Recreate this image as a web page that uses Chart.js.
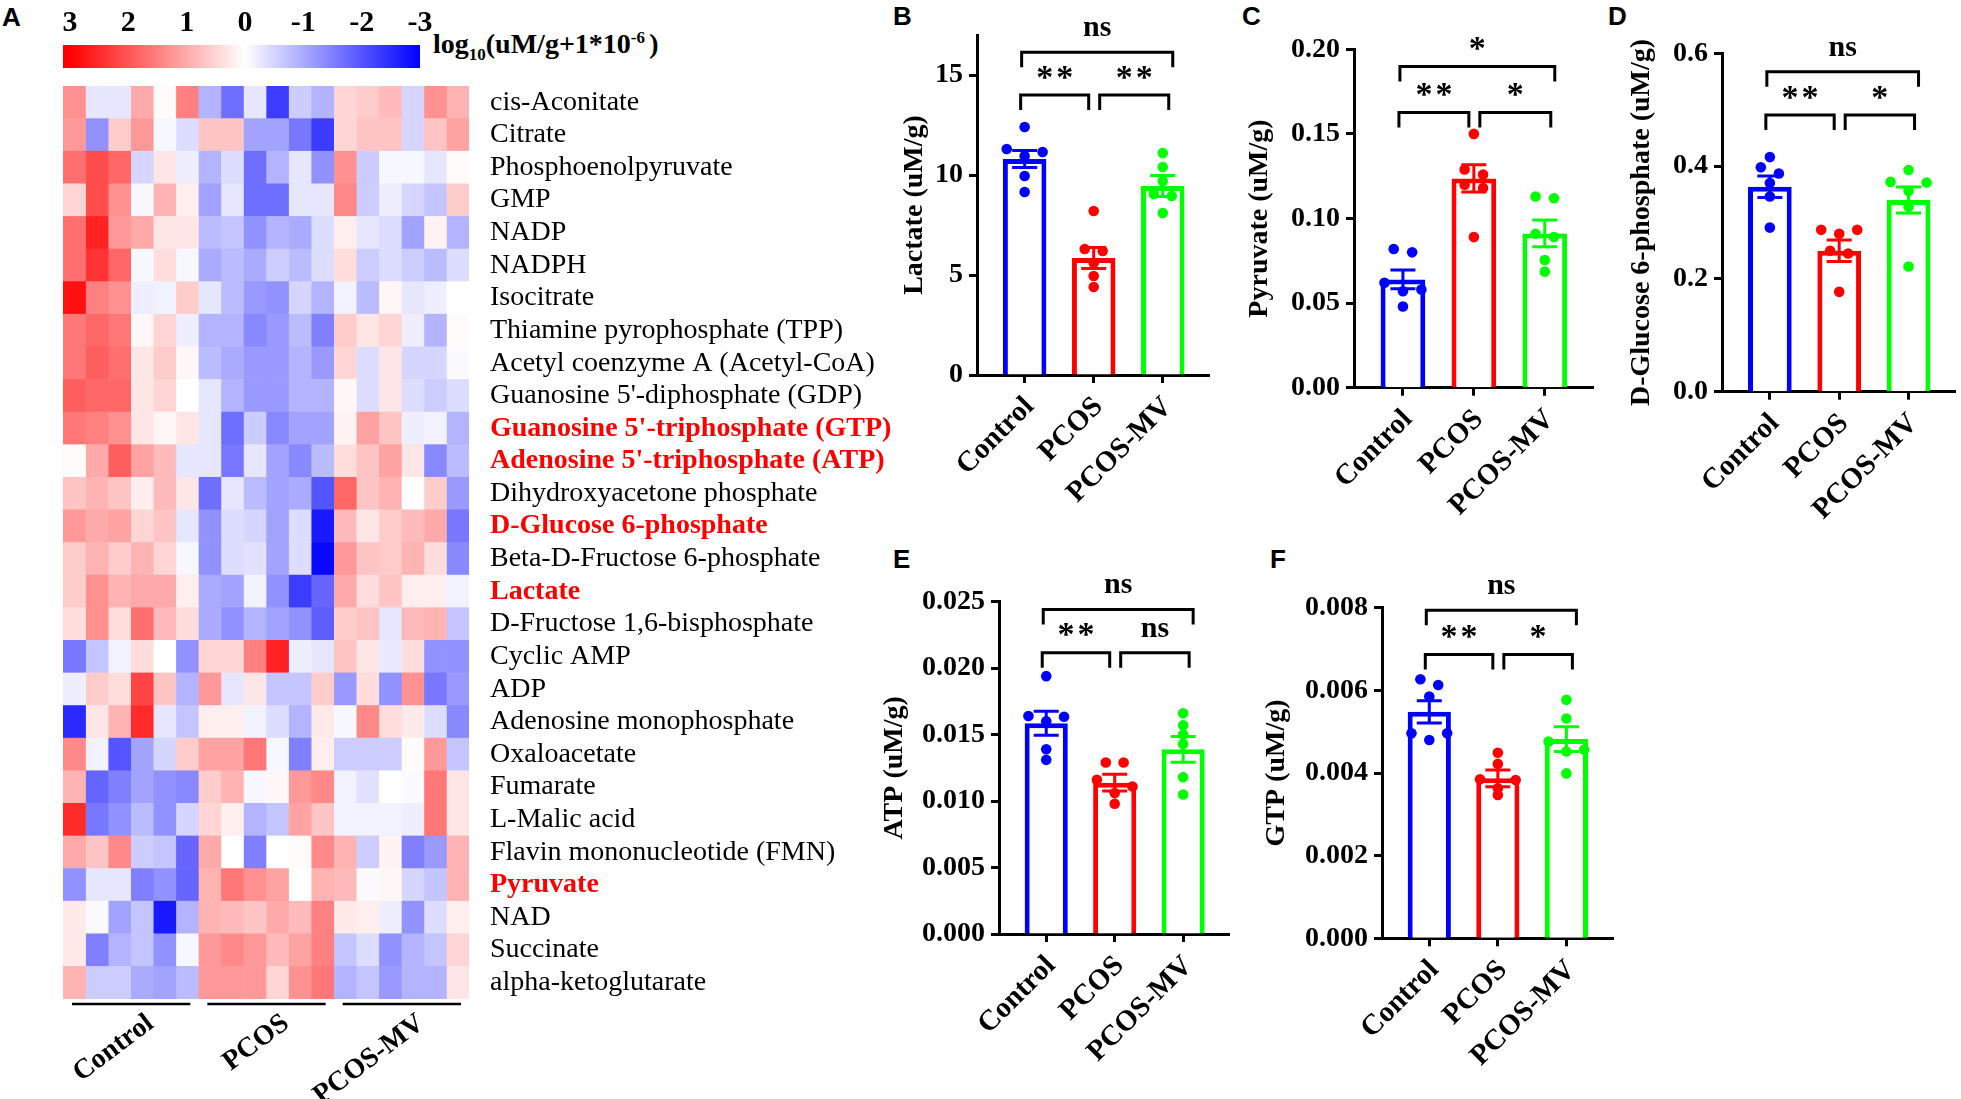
<!DOCTYPE html>
<html>
<head>
<meta charset="utf-8">
<script src="https://cdn.jsdelivr.net/npm/chart.js@4.4.1/dist/chart.umd.min.js"></script>
<style>
  html, body { margin: 0; padding: 0; background: #fff; width: 1961px; height: 1099px; overflow: hidden; }
  canvas { position: absolute; }
  .letter { position: absolute; font: bold 26px "Liberation Sans", Arial, sans-serif; line-height: 1; }
  #cbtitle { position: absolute; left: 433px; top: 30px; font: bold 28px "Liberation Serif", serif; line-height: 1; white-space: nowrap; }
  #cbtitle sub, #cbtitle sup { font-size: 17px; line-height: 0; }
</style>
</head>
<body>
<div class="letter" style="left:2px;top:4px">A</div>
<div class="letter" style="left:893px;top:3px">B</div>
<div class="letter" style="left:1242px;top:3px">C</div>
<div class="letter" style="left:1608px;top:3px">D</div>
<div class="letter" style="left:893px;top:546px">E</div>
<div class="letter" style="left:1270px;top:546px">F</div>
<div id="cbtitle">log<sub>10</sub>(uM/g+1*10<sup>-6 </sup>)</div>

<canvas id="heat"></canvas>
<canvas id="cbar"></canvas>
<canvas id="lactate"></canvas>
<canvas id="pyruvate"></canvas>
<canvas id="g6p"></canvas>
<canvas id="atp"></canvas>
<canvas id="gtp"></canvas>

<script>
// ---- data ----
var groups = ['Control', 'PCOS', 'PCOS-MV'];

var metabolites = [
  'cis-Aconitate', 'Citrate', 'Phosphoenolpyruvate', 'GMP', 'NADP', 'NADPH', 'Isocitrate',
  'Thiamine pyrophosphate (TPP)', 'Acetyl coenzyme A (Acetyl-CoA)', "Guanosine 5'-diphosphate (GDP)",
  "Guanosine 5'-triphosphate (GTP)", "Adenosine 5'-triphosphate (ATP)", 'Dihydroxyacetone phosphate',
  'D-Glucose 6-phosphate', 'Beta-D-Fructose 6-phosphate', 'Lactate', 'D-Fructose 1,6-bisphosphate',
  'Cyclic AMP', 'ADP', 'Adenosine monophosphate', 'Oxaloacetate', 'Fumarate', 'L-Malic acid',
  'Flavin mononucleotide (FMN)', 'Pyruvate', 'NAD', 'Succinate', 'alpha-ketoglutarate'
];
var highlighted = ["Guanosine 5'-triphosphate (GTP)", "Adenosine 5'-triphosphate (ATP)",
  'D-Glucose 6-phosphate', 'Lactate', 'Pyruvate'];

// log10 scaled, 6 samples per group (Control | PCOS | PCOS-MV)
var heatValues = [
  [1.3,-0.3,-0.3,1.0,0.05,1.5,   -0.9,-1.7,-0.3,-2.3,-0.6,-0.9,   0.5,0.6,0.8,-0.5,1.3,0.9],
  [1.2,-1.3,0.6,1.2,-0.1,-0.4,   0.7,0.7,-1.1,-1.1,-1.6,-2.3,     0.5,0.7,0.7,-0.5,0.7,1.1],
  [1.7,2.1,1.8,-0.5,0.3,-0.2,    -0.9,-0.4,-1.7,-0.9,-0.3,-1.3,   1.3,-0.6,-0.1,-0.1,-0.3,0.05],
  [0.5,2.1,1.3,-0.1,0.9,0.2,     -1.1,-0.3,-1.7,-1.7,-0.3,-0.3,   1.4,-0.6,-0.2,-0.5,-0.7,0.6],
  [1.7,2.6,1.2,1.0,0.3,0.3,      -0.8,-0.7,-1.3,-0.9,-1.0,-0.4,   0.2,-0.3,-0.4,-1.1,0.15,-0.9],
  [1.7,2.4,1.8,-0.1,0.4,-0.1,    -1.0,-0.8,-1.0,-0.6,-0.8,-0.4,   0.4,-0.6,-0.4,-0.6,-0.8,-0.4],
  [2.8,1.5,1.3,-0.2,-0.15,0.6,   -0.3,-0.8,-1.2,-1.3,-0.5,-0.9,   -0.15,-0.8,0.1,-0.3,-0.2,0.0],
  [1.6,1.8,1.6,0.1,0.5,-0.2,     -0.9,-0.9,-1.4,-1.2,-0.8,-1.5,   0.6,0.3,0.5,-0.2,-0.9,0.05],
  [1.6,1.9,1.7,0.3,0.6,0.1,      -0.8,-1.0,-1.2,-1.2,-0.9,-1.2,   0.5,-0.4,0.3,-0.5,-0.5,-0.05],
  [1.9,1.8,1.8,0.3,0.5,0.0,      -0.3,-0.9,-1.2,-1.2,-0.9,-0.9,   0.1,-0.4,0.3,-0.4,-0.6,-0.4],
  [1.6,1.5,1.3,0.3,0.1,0.3,      -0.3,-1.7,-0.6,-1.4,-1.1,-1.1,   0.15,1.1,0.7,-0.2,-0.15,-0.9],
  [0.05,1.0,1.9,1.1,0.8,-0.3,    -0.3,-1.6,-0.3,-1.1,-1.4,-0.8,   0.4,0.7,1.1,0.3,-1.4,-0.8],
  [0.7,0.9,0.7,0.2,0.8,0.3,      -1.7,-0.3,-0.8,-1.1,-1.0,-2.0,   1.8,0.7,0.9,0.0,0.6,-1.2],
  [1.2,1.0,1.1,0.5,0.7,-0.3,     -1.3,-0.4,-0.5,-1.1,-0.4,-2.7,   0.8,0.3,0.6,0.8,1.0,-1.6],
  [0.6,0.9,0.6,0.9,0.5,-0.1,     -1.3,-0.4,-0.35,-1.1,-0.4,-2.9,  1.2,0.7,0.6,0.9,0.4,-1.4],
  [0.6,1.3,0.9,1.0,1.0,0.2,      -1.0,-1.1,-0.15,-1.3,-2.3,-1.8,  1.0,0.4,0.7,0.2,0.2,-0.15],
  [0.4,1.3,0.4,1.7,0.8,0.4,      -1.0,-1.3,-0.9,-1.1,-1.3,-1.9,   0.6,0.7,-0.3,0.8,0.9,-0.7],
  [-1.6,-0.7,-0.15,0.4,0.0,-1.3, 0.5,0.5,1.5,2.6,-0.2,-0.3,       0.7,0.3,-0.25,0.4,-1.3,-1.3],
  [-0.2,0.6,0.4,2.2,0.7,-0.9,    1.2,-0.3,0.3,-0.7,-0.7,0.6,      -1.2,0.4,-1.3,1.3,-1.6,-1.2],
  [-2.5,0.3,0.9,2.5,-0.3,-0.7,   0.2,0.2,-0.15,-0.4,-0.9,0.25,    -0.1,1.4,0.4,0.25,-0.4,-1.4],
  [1.4,-0.15,-2.0,-1.1,-0.5,0.6, 1.1,1.1,1.6,-0.1,-1.5,0.2,       -0.6,-0.6,-0.6,0.05,1.2,-0.7],
  [0.9,-1.8,-1.5,-1.1,-1.3,-1.4, 0.6,0.9,-0.1,0.1,1.2,1.4,        -0.15,-0.35,0.0,-0.05,1.6,0.3],
  [2.5,-1.6,-1.3,-0.8,-1.3,-0.5, 0.5,0.2,-0.9,-0.7,1.1,0.7,       -0.15,-0.15,-0.15,-0.2,1.6,0.3],
  [1.0,0.7,1.4,-0.6,-0.7,-1.8,   1.0,0.0,-1.5,0.0,0.05,1.4,       0.9,-0.6,0.15,-1.5,-1.2,0.9],
  [-1.3,-0.3,-0.3,-1.5,-1.3,-1.8, 0.9,1.6,1.3,1.1,0.0,0.9,        0.8,-0.05,0.1,-0.5,-0.7,0.9],
  [0.25,-0.05,-1.1,-0.7,-2.7,-0.9, 0.9,0.8,0.7,1.0,0.8,1.5,       0.25,0.2,-0.2,-1.3,-0.4,0.2],
  [0.25,-1.5,-0.9,-0.7,-1.3,-0.1, 1.2,1.4,1.2,0.8,1.1,1.5,        -0.7,-0.4,-1.3,-0.9,-0.7,0.5],
  [0.9,-0.6,-0.6,-1.0,-1.1,-0.8, 1.2,1.2,1.2,0.5,1.3,1.6,         -0.9,-0.7,-1.2,-0.9,-0.9,0.3]
];
var colorbarTicks = [3, 2, 1, 0, -1, -2, -3];

var lactateMean = [10.8, 5.85, 9.45];
var lactateSem = [0.42, 0.52, 0.53];
var lactateDots = [[12.4, 11.3, 11.15, 10.95, 9.95, 9.15], [8.2, 6.3, 6.2, 5.6, 4.95, 4.4], [11.1, 10.4, 9.7, 9.05, 8.95, 8.1]];
var lactateSig = ['**', '**', 'ns'];

var pyruvateMean = [0.064, 0.1237, 0.0912];
var pyruvateSem = [0.0055, 0.0081, 0.0079];
var pyruvateDots = [[0.082, 0.080, 0.062, 0.058, 0.057, 0.048], [0.150, 0.129, 0.126, 0.120, 0.118, 0.089], [0.113, 0.112, 0.091, 0.089, 0.0755, 0.0686]];
var pyruvateSig = ['**', '*', '*'];

var g6pMean = [0.3635, 0.250, 0.340];
var g6pSem = [0.019, 0.019, 0.023];
var g6pDots = [[0.416, 0.398, 0.387, 0.37, 0.346, 0.291], [0.287, 0.287, 0.280, 0.25, 0.245, 0.177], [0.393, 0.372, 0.371, 0.356, 0.328, 0.222]];
var g6pSig = ['**', '*', 'ns'];

var atpMean = [0.01585, 0.01138, 0.01389];
var atpSem = [0.0009, 0.00063, 0.00096];
var atpDots = [[0.0194, 0.0164, 0.01635, 0.016, 0.0139, 0.0131], [0.0129, 0.0129, 0.0116, 0.0111, 0.0106, 0.0098], [0.0166, 0.0157, 0.0150, 0.0143, 0.0118, 0.0105]];
var atpSig = ['**', 'ns', 'ns'];

var gtpMean = [0.00548, 0.00387, 0.00482];
var gtpSem = [0.00027, 0.0002, 0.0003];
var gtpDots = [[0.00627, 0.00613, 0.00585, 0.00496, 0.00496, 0.0048], [0.00449, 0.00422, 0.00385, 0.00383, 0.00363, 0.00347], [0.00577, 0.00532, 0.00476, 0.00456, 0.00452, 0.00399]];
var gtpSig = ['**', '*', 'ns'];

// ---- setup ----
var SERIF = '"Liberation Serif", "Times New Roman", serif';
var groupColors = ['#0000ff', '#ff0000', '#00ff00'];
Chart.defaults.font.family = SERIF;
Chart.defaults.color = '#000';
Chart.defaults.animation = false;
Chart.defaults.plugins.legend.display = false;
Chart.defaults.plugins.tooltip.enabled = false;

function heatColor(v) {
  var t = Math.min(Math.abs(v) / 3, 1);
  var c = Math.round(255 * (1 - t));
  return v >= 0 ? 'rgb(255,' + c + ',' + c + ')' : 'rgb(' + c + ',' + c + ',255)';
}

function place(id, left, top, width, height) {
  var cv = document.getElementById(id);
  cv.width = width;
  cv.height = height;
  cv.style.left = left + 'px';
  cv.style.top = top + 'px';
  return cv;
}

// fixed axis size, and no extra label padding pushed onto the chart area
function fixSize(prop, size) {
  return function (s) {
    s[prop] = size;
    s.paddingLeft = s.paddingRight = s.paddingTop = s.paddingBottom = 0;
  };
}

// ---- heatmap ----
var perGroup = heatValues[0].length / groups.length;
var heatSets = [];
for (var j = 0; j < heatValues[0].length; j++) {
  (function (col) {
    heatSets.push({
      data: metabolites.map(function (m) { return { x: [col, col + 1], y: m }; }),
      backgroundColor: function (ctx) { return heatColor(heatValues[ctx.dataIndex][col]); },
      borderWidth: 0
    });
  })(j);
}

var groupLines = {
  id: 'groupLines',
  afterDraw: function (chart) {
    var ctx = chart.ctx, x = chart.scales.x, yb = chart.chartArea.bottom + 5;
    ctx.save();
    ctx.strokeStyle = '#000';
    ctx.lineWidth = 2.5;
    groups.forEach(function (g, i) {
      ctx.beginPath();
      ctx.moveTo(x.getPixelForValue(i * perGroup) + 9, yb);
      ctx.lineTo(x.getPixelForValue((i + 1) * perGroup) - 8, yb);
      ctx.stroke();
    });
    ctx.restore();
  }
};

place('heat', 0, 46, 900, 1053);
new Chart('heat', {
  type: 'bar',
  data: { labels: metabolites, datasets: heatSets },
  options: {
    indexAxis: 'y',
    responsive: false,
    layout: { padding: { left: 63, top: 40, right: 0, bottom: 0 } },
    datasets: { bar: { grouped: false, barPercentage: 1, categoryPercentage: 1 } },
    scales: {
      x: {
        type: 'linear', min: 0, max: heatValues[0].length, offset: false,
        grid: { display: false, drawTicks: false }, border: { display: false },
        afterBuildTicks: function (s) { s.ticks = groups.map(function (g, i) { return { value: (i + 0.5) * perGroup }; }); },
        ticks: {
          callback: function (v, i) { return groups[i]; },
          autoSkip: false, minRotation: 37, maxRotation: 37, labelOffset: 20, padding: 8,
          font: { size: 28, weight: 'bold' }
        },
        afterFit: fixSize('height', 100)
      },
      y: {
        position: 'right',
        grid: { display: false, drawTicks: false }, border: { display: false },
        ticks: {
          autoSkip: false, padding: 21,
          font: function (ctx) { return { size: 28, weight: highlighted.indexOf(metabolites[ctx.index]) >= 0 ? 'bold' : 'normal' }; },
          color: function (ctx) { return highlighted.indexOf(metabolites[ctx.index]) >= 0 ? '#ff0000' : '#000'; }
        },
        afterFit: fixSize('width', 431)
      }
    }
  },
  plugins: [groupLines]
});

// ---- colour bar ----
place('cbar', 0, 0, 440, 75);
new Chart('cbar', {
  type: 'bar',
  data: {
    labels: ['scale'],
    datasets: [{
      data: [[colorbarTicks[colorbarTicks.length - 1], 3.12]],
      backgroundColor: function (ctx) {
        var chart = ctx.chart, x = chart.scales.x;
        if (!x || !chart.chartArea) return '#fff';
        var g = chart.ctx.createLinearGradient(x.getPixelForValue(3), 0, x.getPixelForValue(-3), 0);
        g.addColorStop(0, heatColor(3));
        g.addColorStop(0.5, heatColor(0));
        g.addColorStop(1, heatColor(-3));
        return g;
      },
      borderWidth: 0, barPercentage: 1, categoryPercentage: 1
    }]
  },
  options: {
    indexAxis: 'y',
    responsive: false,
    layout: { padding: { left: 63, right: 20, top: 0, bottom: 7 } },
    scales: {
      x: {
        type: 'linear', position: 'top', min: -3, max: 3.12, reverse: true, offset: false,
        grid: { display: false, drawTicks: false }, border: { display: false },
        afterBuildTicks: function (s) { s.ticks = colorbarTicks.map(function (v) { return { value: v }; }); },
        ticks: { callback: function (v) { return String(v); }, font: { size: 30, weight: 'bold' }, padding: 4, autoSkip: false, maxRotation: 0 },
        afterFit: fixSize('height', 45)
      },
      y: { display: false }
    }
  }
});

// ---- bar panels ----
function jitter(vals, thr, step) {
  var order = vals.map(function (v, i) { return i; }).sort(function (a, b) { return vals[b] - vals[a]; });
  var off = vals.map(function () { return 0; });
  var patterns = { 1: [0], 2: [-0.5, 0.5], 3: [-1, 1, 0] };
  var cl = [];
  function flush() {
    patterns[cl.length].forEach(function (p, k) { off[cl[k]] = p * step; });
    cl = [];
  }
  order.forEach(function (i) {
    if (cl.length && (vals[cl[cl.length - 1]] - vals[i] >= thr || cl.length === 3)) flush();
    cl.push(i);
  });
  if (cl.length) flush();
  return off;
}

var marks = {
  id: 'marks',
  afterDatasetDraw: function (chart, args, opts) {
    if (args.index !== 0) return;
    var ctx = chart.ctx, x = chart.scales.x, y = chart.scales.y;
    ctx.save();
    ctx.lineWidth = 3;
    chart.data.datasets[0].data.forEach(function (d, i) {
      var cx = x.getPixelForValue(d.x), hi = y.getPixelForValue(d.y + opts.sems[i]), lo = y.getPixelForValue(d.y - opts.sems[i]);
      ctx.strokeStyle = groupColors[i];
      ctx.beginPath();
      ctx.moveTo(cx, lo); ctx.lineTo(cx, hi);
      ctx.moveTo(cx - 12.5, hi); ctx.lineTo(cx + 12.5, hi);
      ctx.moveTo(cx - 12.5, lo); ctx.lineTo(cx + 12.5, lo);
      ctx.stroke();
    });
    ctx.restore();
  },
  afterDraw: function (chart, args, opts) {
    var ctx = chart.ctx, x = chart.scales.x, y = chart.scales.y;
    var pairs = [[0, 1, -4, -5, opts.levels[0], opts.sig[0]], [1, 2, 6, 6, opts.levels[0], opts.sig[1]], [0, 2, -3, 10, opts.levels[1], opts.sig[2]]];
    ctx.save();
    ctx.strokeStyle = '#000';
    ctx.fillStyle = '#000';
    ctx.lineWidth = 3;
    pairs.forEach(function (p) {
      var xa = x.getPixelForValue(p[0]) + p[2], xb = x.getPixelForValue(p[1]) + p[3], yl = y.getPixelForValue(p[4]);
      ctx.beginPath();
      ctx.moveTo(xa, yl + 15); ctx.lineTo(xa, yl); ctx.lineTo(xb, yl); ctx.lineTo(xb, yl + 15);
      ctx.stroke();
      var txt = p[5], star = txt.charAt(0) === '*';
      ctx.font = 'bold ' + (star ? 34 : 30) + 'px ' + SERIF;
      ctx.textAlign = 'left';
      ctx.textBaseline = 'alphabetic';
      var m = ctx.measureText(star ? '*' : txt);
      var gap = star ? 3 : 0;
      var w = star ? txt.length * m.width + (txt.length - 1) * gap : m.width;
      var base = yl - 23 + (m.actualBoundingBoxAscent - m.actualBoundingBoxDescent) / 2;
      var sx = (xa + xb) / 2 - w / 2;
      if (star) {
        for (var k = 0; k < txt.length; k++) ctx.fillText('*', sx + k * (m.width + gap), base);
      } else {
        ctx.fillText(txt, sx, base);
      }
    });
    ctx.restore();
  }
};

function barPanel(id, p) {
  var box = p.box, area = p.area;
  place(id, box.left, box.top, box.width, box.height);
  var padLeft = p.titleX - box.left - 16.8;
  var dots = [];
  p.dots.forEach(function (vals, g) {
    var off = jitter(vals, p.max * 0.027, 0.26);
    vals.forEach(function (v, k) { dots.push({ x: g + off[k], y: v, g: g }); });
  });
  var axisGrid = { drawOnChartArea: false, offset: false, tickLength: 8, tickWidth: 3, tickColor: '#000' };
  var axisBorder = { color: '#000', width: 3 };
  new Chart(id, {
    type: 'bar',
    data: {
      datasets: [
        {
          type: 'bar', order: 2,
          data: p.means.map(function (m, i) { return { x: i, y: m }; }),
          backgroundColor: '#fff', borderColor: groupColors, borderWidth: 5,
          barPercentage: 0.63, categoryPercentage: 1
        },
        {
          type: 'scatter', order: 1, data: dots,
          pointBackgroundColor: dots.map(function (d) { return groupColors[d.g]; }),
          pointBorderWidth: 0, pointRadius: 5.3
        }
      ]
    },
    options: {
      responsive: false,
      layout: { padding: { left: padLeft, top: area.T - box.top, right: box.left + box.width - area.R, bottom: 0 } },
      scales: {
        x: {
          type: 'linear', min: -0.69, max: 2.68, offset: false,
          grid: axisGrid, border: axisBorder,
          afterBuildTicks: function (s) { s.ticks = groups.map(function (g, i) { return { value: i }; }); },
          ticks: {
            callback: function (v, i) { return groups[i]; },
            autoSkip: false, minRotation: 45, maxRotation: 45, padding: 7, labelOffset: 5,
            font: { size: 29, weight: 'bold' }
          },
          afterFit: fixSize('height', box.top + box.height - area.B)
        },
        y: {
          min: 0, max: p.max,
          grid: axisGrid, border: axisBorder,
          afterBuildTicks: function (s) {
            s.ticks = s.ticks.filter(function (t) { return Math.abs(t.value / p.step - Math.round(t.value / p.step)) < 1e-6; });
          },
          ticks: {
            stepSize: p.step, padding: 6,
            callback: function (v) { return v.toFixed(p.dec); },
            font: { size: 28, weight: 'bold' }
          },
          title: { display: true, text: p.title, font: { size: 28, weight: 'bold' }, padding: 0 },
          afterFit: fixSize('width', area.L - box.left - padLeft)
        }
      },
      plugins: { marks: { sems: p.sems, sig: p.sig, levels: p.levels } }
    },
    plugins: [marks]
  });
}

barPanel('lactate', {
  means: lactateMean, sems: lactateSem, dots: lactateDots, sig: lactateSig,
  max: 17, step: 5, dec: 0, title: 'Lactate (uM/g)', levels: [14, 16.14],
  box: { left: 880, top: 0, width: 335, height: 520 }, area: { L: 977, T: 35, R: 1210, B: 375 }, titleX: 915
});
barPanel('pyruvate', {
  means: pyruvateMean, sems: pyruvateSem, dots: pyruvateDots, sig: pyruvateSig,
  max: 0.2, step: 0.05, dec: 2, title: 'Pyruvate (uM/g)', levels: [0.1626, 0.1898],
  box: { left: 1210, top: 0, width: 390, height: 520 }, area: { L: 1354, T: 49.3, R: 1593, B: 387.7 }, titleX: 1260
});
barPanel('g6p', {
  means: g6pMean, sems: g6pSem, dots: g6pDots, sig: g6pSig,
  max: 0.6, step: 0.2, dec: 1, title: 'D-Glucose 6-phosphate (uM/g)', levels: [0.4906, 0.5675],
  box: { left: 1600, top: 0, width: 361, height: 520 }, area: { L: 1722, T: 53.3, R: 1958, B: 391.7 }, titleX: 1642
});
barPanel('atp', {
  means: atpMean, sems: atpSem, dots: atpDots, sig: atpSig,
  max: 0.025, step: 0.005, dec: 3, title: 'ATP (uM/g)', levels: [0.02116, 0.02442],
  box: { left: 875, top: 560, width: 360, height: 539 }, area: { L: 999, T: 601.7, R: 1230, B: 934 }, titleX: 895
});
barPanel('gtp', {
  means: gtpMean, sems: gtpSem, dots: gtpDots, sig: gtpSig,
  max: 0.008, step: 0.002, dec: 3, title: 'GTP (uM/g)', levels: [0.00687, 0.00794],
  box: { left: 1255, top: 560, width: 365, height: 539 }, area: { L: 1382, T: 607.7, R: 1613, B: 938.3 }, titleX: 1277
});
</script>
</body>
</html>
